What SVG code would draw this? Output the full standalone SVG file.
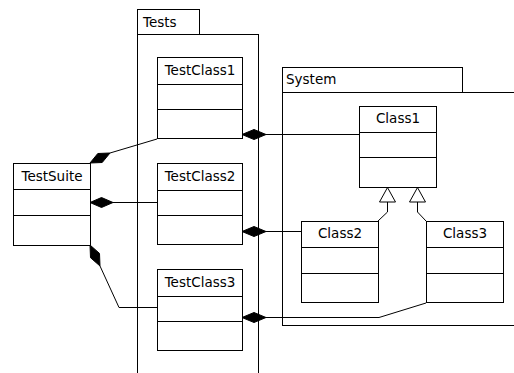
<svg xmlns="http://www.w3.org/2000/svg" width="514" height="373" viewBox="0 0 514 373">
<style>
.pk{fill:#fff;stroke:#000;stroke-width:1}
.bx{fill:#fff;stroke:#000;stroke-width:1}
.ln{fill:none;stroke:#000;stroke-width:1}
.dm{fill:#000;stroke:#000;stroke-width:1}
.tri{fill:#fff;stroke:#000;stroke-width:1}
text{font-family:"DejaVu Sans","Liberation Sans",sans-serif;font-size:13.5px;fill:#000}
.c{text-anchor:middle}
</style>
<rect width="514" height="373" fill="#fff"/>
<g id="pkg-tests">
<rect class="pk" x="137.5" y="9.5" width="62" height="25"/>
<rect class="pk" x="137.5" y="34.5" width="121" height="350"/>
<text x="143" y="27">Tests</text>
</g>
<g id="pkg-system">
<rect class="pk" x="282.5" y="67.5" width="180" height="25"/>
<rect class="pk" x="282.5" y="92.5" width="240" height="233"/>
<text x="286" y="84">System</text>
</g>
<g id="connectors">
<polyline class="ln" points="110,153 157,139"/>
<polyline class="ln" points="113,202.5 157,202.5"/>
<polyline class="ln" points="100,266 119,307.5 157,307.5"/>
<polyline class="ln" points="266,134.5 359,134.5"/>
<polyline class="ln" points="266,231.5 301,231.5"/>
<polyline class="ln" points="266,317.5 379,317.5 426,303"/>
<polyline class="ln" points="387.5,202 387.5,212 378,221"/>
<polyline class="ln" points="417.5,202 417.5,212 426,221"/>
<polygon class="dm" points="90,163 102.2,162.5 110,153 97.8,153.5"/>
<polygon class="dm" points="90,202.5 101.5,197.5 113,202.5 101.5,207.5"/>
<polygon class="dm" points="90,245 99.5,253.4 100,266 90.5,257.7"/>
<polygon class="dm" points="242,134.5 254,129.5 266,134.5 254,139.5"/>
<polygon class="dm" points="242,231.5 254,226.5 266,231.5 254,236.5"/>
<polygon class="dm" points="242,317.5 254,312.5 266,317.5 254,322.5"/>
<polygon class="tri" points="387.5,187.5 379.5,202 395.5,202"/>
<polygon class="tri" points="417.5,187.5 409.5,202 425.5,202"/>
</g>
<g id="TestSuite">
<rect class="bx" x="13.5" y="163.5" width="77" height="82"/>
<line class="ln" x1="13.5" y1="189.5" x2="90.5" y2="189.5"/>
<line class="ln" x1="13.5" y1="215.5" x2="90.5" y2="215.5"/>
<text class="c" x="52" y="181">TestSuite</text>
</g>
<g id="TestClass1">
<rect class="bx" x="157.5" y="57.5" width="85" height="81"/>
<line class="ln" x1="157.5" y1="84.5" x2="242.5" y2="84.5"/>
<line class="ln" x1="157.5" y1="109.5" x2="242.5" y2="109.5"/>
<text class="c" x="200" y="75">TestClass1</text>
</g>
<g id="TestClass2">
<rect class="bx" x="157.5" y="163.5" width="85" height="81"/>
<line class="ln" x1="157.5" y1="190.5" x2="242.5" y2="190.5"/>
<line class="ln" x1="157.5" y1="215.5" x2="242.5" y2="215.5"/>
<text class="c" x="200" y="181">TestClass2</text>
</g>
<g id="TestClass3">
<rect class="bx" x="157.5" y="269.5" width="85" height="81"/>
<line class="ln" x1="157.5" y1="296.5" x2="242.5" y2="296.5"/>
<line class="ln" x1="157.5" y1="321.5" x2="242.5" y2="321.5"/>
<text class="c" x="200" y="287">TestClass3</text>
</g>
<g id="Class1">
<rect class="bx" x="359.5" y="106.5" width="77" height="81"/>
<line class="ln" x1="359.5" y1="132.5" x2="436.5" y2="132.5"/>
<line class="ln" x1="359.5" y1="157.5" x2="436.5" y2="157.5"/>
<text class="c" x="398" y="123">Class1</text>
</g>
<g id="Class2">
<rect class="bx" x="301.5" y="221.5" width="77" height="81"/>
<line class="ln" x1="301.5" y1="247.5" x2="378.5" y2="247.5"/>
<line class="ln" x1="301.5" y1="273.5" x2="378.5" y2="273.5"/>
<text class="c" x="340" y="238">Class2</text>
</g>
<g id="Class3">
<rect class="bx" x="426.5" y="221.5" width="77" height="81"/>
<line class="ln" x1="426.5" y1="247.5" x2="503.5" y2="247.5"/>
<line class="ln" x1="426.5" y1="273.5" x2="503.5" y2="273.5"/>
<text class="c" x="465" y="238">Class3</text>
</g>
</svg>
